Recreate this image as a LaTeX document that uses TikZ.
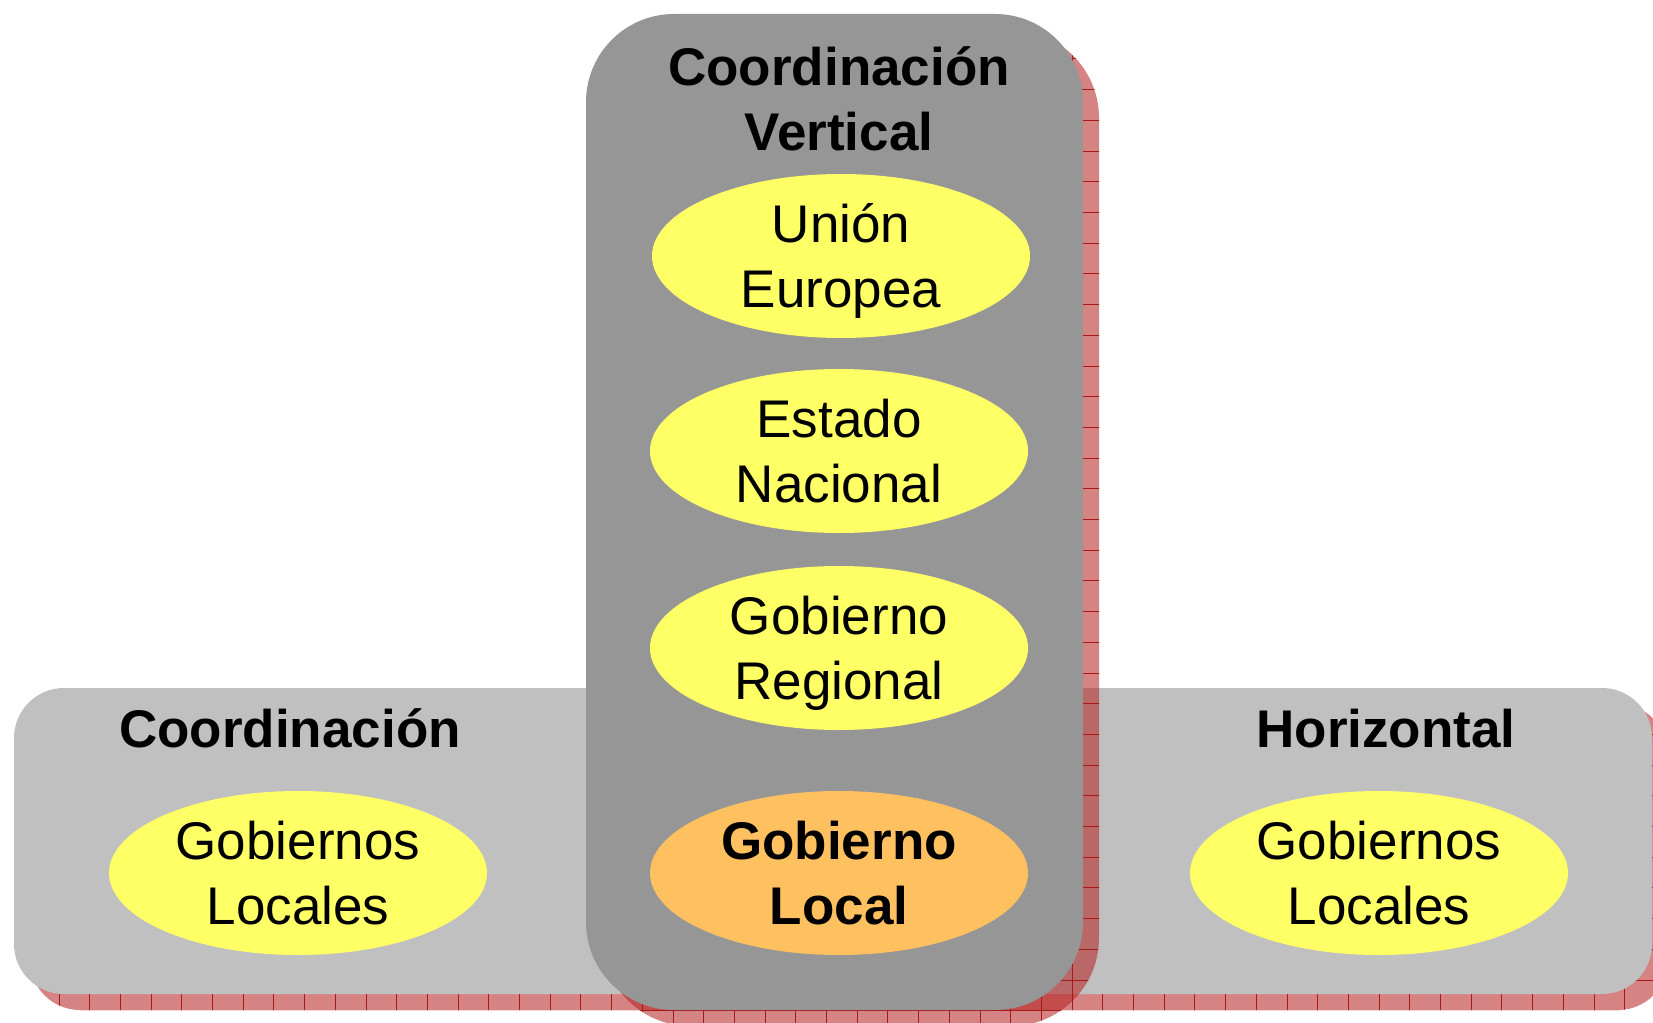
\documentclass[tikz,border=0pt]{standalone}
\usepackage{fontspec}
\setmainfont{Liberation Sans}
\usetikzlibrary{shapes.geometric}
\definecolor{vgray}{RGB}{150,150,150}
\definecolor{hgray}{RGB}{192,192,192}
\definecolor{ylw}{RGB}{255,255,102}
\definecolor{orng}{RGB}{255,192,96}
\definecolor{shd}{RGB}{180,30,30}
\definecolor{gridred}{RGB}{165,25,25}
\newcommand{\twolines}[2]{\rule{0pt}{1em}#1\\#2\rule[-0.28em]{0pt}{0pt}}
\tikzset{
  oval/.style={ellipse, fill=ylw, minimum width=189pt, minimum height=82pt, inner sep=0pt},
  lbl/.style={align=center, inner sep=0pt, font=\fontsize{26.5}{32.2}\selectfont},
  lblb/.style={lbl, font=\fontsize{26.5}{32.2}\selectfont\bfseries},
  title/.style={align=center, inner sep=0pt, font=\fontsize{26.5}{32.2}\selectfont\bfseries},
  shadowfill/.style={fill=shd, fill opacity=0.55},
  gridline/.style={draw=gridred, line width=0.5pt}
}
\begin{document}
\begin{tikzpicture}[x=0.5pt,y=-0.5pt]
\useasboundingbox (0,0) rectangle (1653,1022);
\clip (0,0) rectangle (1653,1022);
% horizontal shadow
\begin{scope}
  \clip[rounded corners=25pt] (30,704) rectangle (1668,1010);
  \fill[shadowfill] (0,0) rectangle (1700,1100);
  \foreach \i in {0,...,54} \draw[gridline] (59+30.7*\i,0) -- ++(0,1100);
  \foreach \j in {0,...,34} \draw[gridline] (0,59+30.7*\j) -- ++(1700,0);
\end{scope}
\fill[hgray, rounded corners=25pt] (14,688) rectangle (1652,994);
% vertical shadow
\begin{scope}
  \clip[rounded corners=44pt] (602,30) rectangle (1099,1026);
  \fill[shadowfill] (0,0) rectangle (1700,1100);
  \foreach \i in {0,...,54} \draw[gridline] (59+30.7*\i,0) -- ++(0,1100);
  \foreach \j in {0,...,34} \draw[gridline] (0,59+30.7*\j) -- ++(1700,0);
\end{scope}
\fill[vgray, rounded corners=44pt] (586,14) rectangle (1083,1010);
% titles
\node[title] (tv) at (839,99) {\twolines{Coordinación}{Vertical}};
\node[title, anchor=base] (th1) at (290,747) {Coordinación};
\node[title, anchor=base] (th2) at (1386,747) {Horizontal};
% ellipses
\node[oval, label={[lbl]center:{\twolines{Unión}{Europea}}}] (ue) at (841,256) {};
\node[oval, label={[lbl]center:{\twolines{Estado}{Nacional}}}] (en) at (839,451) {};
\node[oval, label={[lbl]center:{\twolines{Gobierno}{Regional}}}] (gr) at (839,648) {};
\node[oval, fill=orng, label={[lblb]center:{\twolines{Gobierno}{Local}}}] (gl) at (839,873) {};
\node[oval, label={[lbl]center:{\twolines{Gobiernos}{Locales}}}] (ll) at (298,873) {};
\node[oval, label={[lbl]center:{\twolines{Gobiernos}{Locales}}}] (lr) at (1379,873) {};
\end{tikzpicture}
\end{document}
